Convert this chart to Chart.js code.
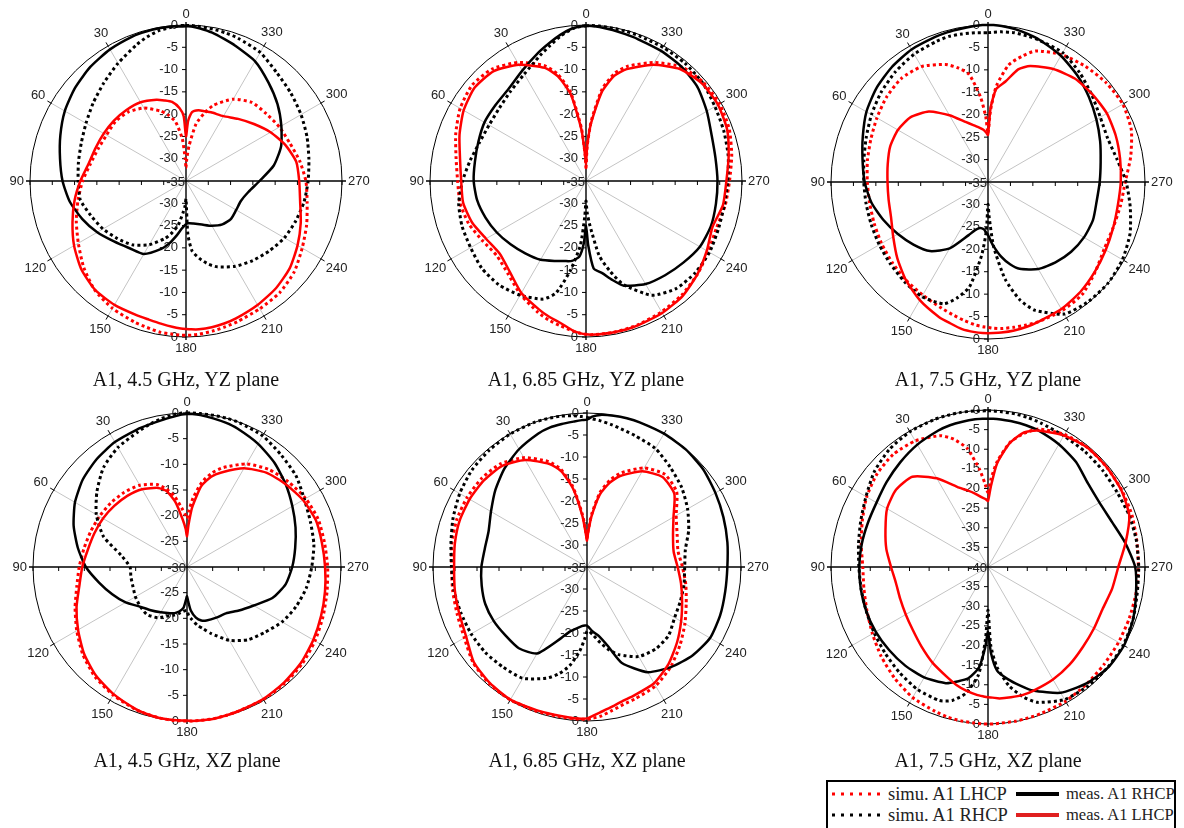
<!DOCTYPE html>
<html>
<head>
<meta charset="utf-8">
<script src="https://cdn.jsdelivr.net/npm/chart.js@4.4.0/dist/chart.umd.min.js"></script>
<style>
  body { margin: 0; width: 1184px; height: 828px; overflow: hidden; position: relative; background: #fff; }
  canvas { position: absolute; }
  .title { position: absolute; width: 300px; text-align: center; font: 20px "Liberation Serif", "Times New Roman", serif; color: #111; line-height: 22px; }
  #legend { position: absolute; left: 826px; top: 780px; width: 346px; height: 60px; border: 2.5px solid #000; overflow: hidden; }
  #legend span { position: absolute; font-family: "Liberation Serif", "Times New Roman", serif; color: #222; white-space: nowrap; line-height: 18px; }
  #legend svg { position: absolute; left: 0; top: 0; }
</style>
</head>
<body>
<div id="legend">
  <svg width="346" height="60">
    <line x1="4" y1="12" x2="52" y2="12" stroke="#f00" stroke-width="3" stroke-dasharray="3 6"/>
    <line x1="4" y1="33" x2="52" y2="33" stroke="#000" stroke-width="3" stroke-dasharray="3 6"/>
    <line x1="188" y1="12" x2="231" y2="12" stroke="#000" stroke-width="4"/>
    <line x1="188" y1="33" x2="231" y2="33" stroke="#e02020" stroke-width="4"/>
  </svg>
  <span style="left:60px;top:3px;font-size:18.5px">simu. A1 LHCP</span>
  <span style="left:60px;top:24px;font-size:18.5px">simu. A1 RHCP</span>
  <span style="left:238px;top:3px;font-size:16.5px">meas. A1 RHCP</span>
  <span style="left:238px;top:24px;font-size:16.5px">meas. A1 LHCP</span>
</div>
<script>
const ANG = [0,2,5,10,15,20, 30,40,50,60,70,80,90,100,110,120,130,140,150,160,
  165,170,175,178,180,182,185,190,195,200, 210,220,230,240,250,260,270,280,290,300,310,320,330,340,
  345,350,355,358];

// A1, 4.5 GHz, YZ plane
const yz45_simLHCP = [-32,-30,-25.5,-21.5,-19.7,-18.3, -16.1,-14.8,-14.3,-14.4,-14.0,-13.2,-11.8,-10.4,-8.8,-7.1,-5.0,-3.1,-2.0,-1.3, -1.0,-0.6,-0.5,-0.4,-0.4,-0.4,-0.5,-0.8,-1.1,-1.4, -1.9,-2.3,-3.3,-4.9,-6.2,-7.4,-8.1,-9.1,-10.2,-10.8,-11.5,-12.0,-13.8,-16.9, -19.3,-22.0,-27.0,-30.0];
const yz45_simRHCP = [-0.1,-0.1,-0.3,-0.7,-1.5,-2.5, -4.5,-6.3,-7.8,-9.1,-10.0,-10.5,-10.8,-10.9,-12.3,-13.5,-14.9,-16.3,-18.5,-21.3, -23.0,-25.0,-28.0,-29.5,-31.0,-23.0,-19.2,-17.3,-15.7,-14.5, -12.9,-11.7,-10.6,-9.5,-8.8,-8.1,-7.6,-7.0,-6.1,-5.2,-4.3,-3.3,-1.7,-0.9, -0.6,-0.4,-0.2,-0.1];
const yz45_measRHCP = [-0.3,-0.3,-0.2,-0.2,-0.3,-0.4, -0.9,-1.6,-2.5,-3.6,-5.0,-6.3,-7.3,-8.5,-10.2,-12.0,-13.9,-15.3,-16.1,-18.8, -20.5,-22.5,-24.3,-25.0,-25.3,-25.5,-25.5,-25.3,-25.0,-24.6, -23.4,-22.3,-21.8,-22.0,-21.9,-20.8,-18.5,-15.0,-12.3,-10.3,-8.2,-6.2,-4.0,-2.7, -2.0,-1.2,-0.6,-0.3];
const yz45_measLHCP = [-25,-20.5,-18.6,-17.0,-16.3,-15.6, -14.6,-14.2,-13.9,-13.7,-13.4,-12.8,-11.3,-9.6,-7.9,-6.0,-4.3,-3.2,-2.9,-2.9, -2.8,-2.5,-2.1,-1.9,-1.8,-1.7,-1.6,-1.7,-1.9,-2.2, -2.9,-3.6,-4.6,-6.1,-7.6,-9.0,-9.6,-9.9,-11.3,-13.1,-15.1,-16.8,-18.2,-18.6, -18.8,-18.9,-19.5,-21.5];

// A1, 6.85 GHz, YZ plane
const yz685_simLHCP = [-32,-29,-23,-14.6,-10.1,-7.4, -4.3,-2.2,-1.6,-2.4,-3.9,-5.4,-6.2,-6.3,-7.0,-8.2,-8.9,-7.8,-5.6,-3.6, -2.7,-2.0,-1.2,-0.8,-0.6,-0.5,-0.5,-0.5,-0.6,-0.7, -1.1,-1.6,-2.4,-3.3,-3.9,-3.3,-2.8,-1.8,-0.8,-0.4,-0.6,-1.6,-4.3,-7.6, -9.9,-14.0,-21.5,-27];
const yz685_simRHCP = [-0.2,-0.3,-0.7,-2.0,-3.6,-5.0, -7.3,-8.7,-9.6,-9.9,-9.6,-8.6,-7.3,-6.0,-5.4,-5.1,-4.5,-4.6,-5.4,-6.8, -9.0,-14.5,-20.5,-27.0,-30.5,-28.0,-25.0,-18.0,-14.0,-10.2, -5.4,-3.5,-3.0,-3.0,-3.4,-3.5,-3.2,-2.6,-2.1,-1.6,-0.8,-0.5,-0.4,-0.3, -0.2,-0.2,-0.1,-0.1];
const yz685_measRHCP = [-0.2,-0.3,-0.6,-1.7,-3.0,-4.2, -6.4,-8.0,-8.5,-8.7,-9.3,-9.7,-9.8,-10.2,-11.0,-11.9,-12.9,-13.8,-14.6,-15.9, -16.4,-16.8,-18.0,-21.0,-25.0,-20.5,-15.3,-14.0,-12.0,-10.0, -8.3,-7.4,-6.5,-5.5,-5.2,-5.4,-5.5,-5.5,-5.0,-3.7,-2.3,-1.6,-1.3,-1.1, -0.9,-0.6,-0.3,-0.2];
const yz685_measLHCP = [-31,-29.3,-23.5,-15.2,-10.7,-8.0, -4.9,-2.8,-2.4,-3.3,-4.8,-6.3,-7.0,-7.0,-7.8,-9.1,-9.7,-8.4,-6.0,-4.3, -3.4,-2.6,-1.3,-0.8,-0.6,-0.5,-0.5,-0.5,-0.5,-0.6, -0.8,-1.3,-2.4,-3.7,-4.8,-3.8,-3.5,-2.5,-1.3,-0.8,-1.0,-2.2,-4.9,-8.3, -10.6,-14.8,-22,-27];

// A1, 7.5 GHz, YZ plane
const yz75_simLHCP = [-24,-20.4,-16,-10.6,-8.6,-7.1, -5.3,-4.9,-5.5,-6.4,-7.2,-7.7,-8.1,-8.2,-8.0,-7.6,-7.1,-6.5,-5.9,-5.0, -4.4,-3.7,-3.0,-2.7,-2.6,-2.4,-2.2,-2.1,-2.0,-1.9, -1.9,-2.3,-3.8,-5.1,-5.3,-5.0,-4.4,-2.7,-1.0,-0.3,-0.6,-1.3,-2.2,-3.9, -6.0,-8.5,-13.5,-19];
const yz75_simRHCP = [-1.7,-1.7,-1.6,-1.5,-1.4,-1.6, -2.1,-2.9,-3.9,-5.0,-6.1,-6.9,-7.3,-7.4,-7.3,-7.0,-6.6,-6.0,-5.5,-6.1, -8.2,-11.3,-18.5,-24.0,-30.0,-27.0,-20.5,-13.0,-7.9,-4.6, -1.0,-0.2,0,-0.4,-1.3,-2.8,-4.2,-5.8,-6.6,-6.1,-4.8,-3.2,-1.7,-1.4, -1.3,-1.2,-1.4,-1.6];
const yz75_measRHCP = [0,0,-0.1,-0.3,-0.4,-0.6, -0.9,-1.6,-2.5,-3.7,-5.3,-6.6,-7.5,-8.6,-10.2,-11.8,-13.3,-14.9,-17.9,-22.4, -23.9,-24.6,-24.4,-23.7,-23.2,-22.2,-20.6,-18.1,-16.0,-14.4, -12.6,-11.6,-10.8,-10.3,-10.1,-10.4,-10.1,-9.5,-8.4,-7.1,-5.6,-4.0,-2.5,-1.3, -0.8,-0.4,-0.1,0];
const yz75_measLHCP = [-24.5,-24,-23.3,-22.6,-21.8,-20.8, -17.8,-14.5,-12.5,-11.8,-11.8,-12.3,-12.6,-12.5,-12.0,-10.6,-8.6,-6.5,-4.6,-3.0, -2.4,-1.7,-1.4,-1.3,-1.3,-1.3,-1.3,-1.4,-1.6,-1.9, -2.3,-3.0,-3.9,-4.7,-5.3,-5.6,-5.4,-5.1,-4.7,-4.4,-4.6,-4.9,-5.9,-7.5, -9.0,-12.2,-14.2,-18.5];

// A1, 4.5 GHz, XZ plane
const xz45_simLHCP = [-20.5,-19.8,-18.5,-16.0,-14.2,-12.9, -11.6,-11.0,-10.6,-10.3,-10.0,-9.6,-9.0,-8.2,-6.8,-5.2,-3.5,-2.1,-1.2,-0.5, -0.3,-0.1,0,0,0,0,0,0,-0.1,-0.2, -0.2,-0.4,-0.7,-1.2,-1.8,-2.3,-2.6,-2.8,-2.8,-3.3,-4.2,-5.2,-6.8,-9.4, -11.0,-13.2,-16.5,-19.0];
const xz45_simRHCP = [0,0,-0.2,-0.7,-1.3,-2.0, -3.1,-4.7,-7.1,-9.6,-12.7,-17.0,-18.9,-18.9,-18.8,-18.4,-18.1,-17.9,-18.6,-19.9, -20.3,-20.8,-21.3,-21.5,-21.5,-20.5,-19.8,-18.5,-17.5,-16.2, -13.5,-11.5,-10.2,-8.6,-7.4,-6.4,-5.7,-4.9,-4.4,-3.6,-2.3,-1.5,-0.5,-0.1, 0,0,0,0];
const xz45_measRHCP = [-0.2,-0.3,-0.6,-1.0,-1.3,-1.5, -1.9,-2.6,-3.5,-4.8,-6.5,-8.4,-10.3,-12.6,-14.5,-16.2,-18.0,-19.0,-19.8,-20.4, -20.7,-21.2,-22.0,-23.5,-24.3,-23.3,-21.5,-20.0,-19.2,-18.9, -18.6,-18.2,-16.8,-15.0,-12.3,-10.5,-9.5,-8.6,-7.5,-6.3,-4.9,-3.5,-2.3,-1.3, -0.9,-0.6,-0.3,-0.2];
const xz45_measLHCP = [-24,-22.6,-20.8,-17.2,-14.7,-13.6, -12.5,-11.9,-11.5,-11.1,-10.8,-10.4,-9.6,-8.7,-7.1,-5.5,-3.8,-2.4,-1.4,-0.6, -0.3,-0.1,-0.1,-0.1,-0.1,0,0,0,-0.1,-0.2, -0.3,-0.6,-1.0,-1.6,-2.2,-2.7,-3.1,-3.3,-3.3,-3.9,-4.9,-6.0,-7.8,-10.4, -11.8,-14.0,-18.3,-21.8];

// A1, 6.85 GHz, XZ plane
const xz685_simLHCP = [-28.5,-27,-23,-16.5,-12.0,-9.5, -6.3,-4.4,-3.7,-3.5,-3.5,-3.8,-4.2,-4.0,-3.6,-2.8,-1.2,-0.4,-0.1,-0.3, -0.4,-0.4,-0.4,-0.4,-0.4,-0.6,-0.9,-1.9,-2.7,-3.1, -3.8,-5.4,-7.4,-9.3,-11.0,-12.2,-13.3,-14.0,-13.2,-11.6,-8.4,-7.5,-9.0,-12.2, -14.5,-17.7,-23.0,-26.5];
const xz685_simRHCP = [-1.0,-0.8,-0.5,-0.2,-0.1,0, -0.1,-0.4,-0.8,-1.6,-2.6,-3.6,-4.2,-4.3,-4.5,-4.6,-4.8,-5.3,-5.8,-8.1, -9.8,-12.2,-15.8,-18.5,-20.4,-20.3,-19.5,-17.5,-15.5,-13.8, -11.5,-10.7,-10.8,-12.0,-12.4,-12.6,-12.8,-12.3,-10.4,-8.6,-6.9,-5.5,-3.9,-3.2, -2.8,-2.2,-1.6,-1.3];
const xz685_measRHCP = [-1.5,-1.6,-1.8,-2.0,-2.2,-2.7, -4.1,-5.8,-7.8,-9.8,-11.2,-11.4,-11.0,-10.7,-10.4,-10.5,-10.8,-10.9,-12.3,-17.8, -19.8,-20.8,-21.5,-21.7,-21.7,-21.2,-20.3,-19.0,-16.3,-11.8, -7.4,-5.3,-3.7,-2.7,-2.8,-3.1,-3.1,-2.6,-2.0,-1.3,-0.5,-0.1,0,0, 0,-0.1,-0.3,-0.8];
const xz685_measLHCP = [-29,-27.5,-23.5,-17.0,-12.5,-10.1, -6.9,-5.0,-4.4,-4.2,-4.2,-4.5,-4.8,-4.5,-4.1,-3.3,-1.4,-0.6,-0.2,-0.5, -0.6,-0.6,-0.5,-0.5,-0.6,-1.1,-1.8,-2.7,-3.5,-3.9, -4.5,-6.2,-8.3,-10.3,-12.0,-13.3,-14.4,-15.0,-14.2,-12.3,-9.1,-8.3,-9.9,-13.0, -15.2,-18.3,-23.5,-27];

// A1, 7.5 GHz, XZ plane
const xz75_simLHCP = [-21,-18.8,-15.0,-9.3,-6.3,-4.4, -2.9,-2.5,-3.1,-4.3,-5.9,-7.2,-8.1,-7.9,-7.2,-6.0,-4.5,-3.0,-1.6,-0.8, -0.4,-0.2,-0.1,0,0,0,-0.1,-0.1,-0.2,-0.3, -0.5,-1.0,-1.4,-1.6,-1.7,-1.7,-1.7,-1.5,-1.0,-0.7,-0.5,-0.4,-1.0,-2.6, -4.8,-7.8,-13.0,-17.5];
const xz75_simRHCP = [-0.2,-0.2,-0.1,0,0,0, -0.2,-0.9,-2.2,-4.1,-5.5,-6.5,-7.1,-7.2,-7.0,-6.5,-5.8,-4.9,-4.0,-3.8, -4.8,-7.3,-12.5,-21.5,-29.0,-20.0,-14.5,-9.3,-5.8,-3.3, -1.0,-0.4,-0.2,-0.2,-0.7,-1.4,-1.6,-1.6,-1.7,-2.0,-1.8,-1.6,-1.4,-0.9, -0.6,-0.4,-0.3,-0.2];
const xz75_measRHCP = [-2.2,-2.2,-2.2,-2.4,-2.6,-3.0, -4.0,-5.2,-6.3,-7.2,-7.4,-7.3,-7.2,-7.1,-7.0,-7.0,-7.1,-7.2,-7.5,-8.5, -9.8,-11.2,-14.4,-19.5,-23.5,-18.0,-13.5,-11.0,-8.8,-6.5, -3.0,-1.2,-0.1,0,-0.7,-1.7,-2.5,-4.5,-6.4,-7.2,-6.8,-5.1,-3.9,-2.9, -2.6,-2.4,-2.3,-2.2];
const xz75_measLHCP = [-23.2,-22.7,-22.2,-21.0,-19.8,-18.5, -13.9,-10.0,-9.4,-10.3,-12.2,-13.7,-15.3,-16.2,-16.2,-15.8,-15.0,-13.6,-11.8,-10.0, -8.9,-8.0,-7.3,-7.0,-6.8,-6.7,-6.4,-6.3,-6.2,-6.4, -6.9,-7.6,-8.4,-8.8,-8.9,-7.9,-6.8,-4.4,-1.7,-0.8,-0.5,-0.4,-1.3,-3.0, -4.5,-7.9,-13.5,-19.5];

const plots = [
  { cx: 186, cy: 181, r: 156, min: -35, ty: 368, title: 'A1, 4.5 GHz, YZ plane',  s: [yz45_measLHCP, yz45_measRHCP, yz45_simRHCP, yz45_simLHCP] },
  { cx: 586, cy: 181, r: 156, min: -35, ty: 368, title: 'A1, 6.85 GHz, YZ plane', s: [yz685_measLHCP, yz685_measRHCP, yz685_simRHCP, yz685_simLHCP] },
  { cx: 988, cy: 182, r: 157, min: -35, ty: 368, title: 'A1, 7.5 GHz, YZ plane',  s: [yz75_measLHCP, yz75_measRHCP, yz75_simRHCP, yz75_simLHCP] },
  { cx: 187, cy: 567, r: 154, min: -30, ty: 749, title: 'A1, 4.5 GHz, XZ plane',  s: [xz45_measLHCP, xz45_measRHCP, xz45_simRHCP, xz45_simLHCP] },
  { cx: 587, cy: 567, r: 154, min: -35, ty: 749, title: 'A1, 6.85 GHz, XZ plane', s: [xz685_measLHCP, xz685_measRHCP, xz685_simRHCP, xz685_simLHCP] },
  { cx: 988, cy: 567, r: 157, min: -40, ty: 749, title: 'A1, 7.5 GHz, XZ plane',  s: [xz75_measLHCP, xz75_measRHCP, xz75_simRHCP, xz75_simLHCP] }
];

// radar runs clockwise from the top, the plots run counter-clockwise
const LABELS = Array.from({ length: 360 }, (_, i) => String((360 - i) % 360));
function toRadar(vals) {
  const out = new Array(360).fill(null);
  ANG.forEach((a, k) => { out[(360 - a) % 360] = vals[k]; });
  return out;
}

const styles = [
  { borderColor: '#ff0000', borderWidth: 2.5, borderDash: [] },
  { borderColor: '#000000', borderWidth: 2.5, borderDash: [] },
  { borderColor: '#000000', borderWidth: 3, borderDash: [3, 3] },
  { borderColor: '#ff0000', borderWidth: 3, borderDash: [3, 3] }
];

const polarFrame = {
  id: 'polarFrame',
  beforeDatasetsDraw(chart) {
    const s = chart.scales.r, ctx = chart.ctx;
    const cx = s.xCenter, cy = s.yCenter, R = s.drawingArea;
    ctx.save();
    ctx.strokeStyle = '#000';
    ctx.lineWidth = 1;
    ctx.beginPath();
    for (let a = 30; a < 360; a += 30) {
      if (a % 90 === 0) continue;
      const i = (360 - a) % 360;
      const p1 = s.getPointPosition(i, R - 1), p2 = s.getPointPosition(i, R + 4);
      ctx.moveTo(p1.x, p1.y); ctx.lineTo(p2.x, p2.y);
    }
    ctx.stroke();
    ctx.lineWidth = 1.4;
    ctx.beginPath();
    ctx.moveTo(cx - R - 4, cy); ctx.lineTo(cx + R + 4, cy);
    ctx.moveTo(cx, cy - R - 3); ctx.lineTo(cx, cy + R + 3);
    ctx.stroke();
    ctx.lineWidth = 1;
    ctx.beginPath();
    for (let v = s.min + 5; v <= s.max; v += 5) {
      const d = s.getDistanceFromCenterForValue(v);
      ctx.moveTo(cx - 4, cy - d); ctx.lineTo(cx, cy - d);
      ctx.moveTo(cx - 4, cy + d); ctx.lineTo(cx, cy + d);
      ctx.moveTo(cx - d, cy); ctx.lineTo(cx - d, cy + 4);
      ctx.moveTo(cx + d, cy); ctx.lineTo(cx + d, cy + 4);
    }
    ctx.stroke();

    ctx.fillStyle = '#222';
    ctx.font = '13px "Liberation Sans", Arial, sans-serif';
    ctx.textAlign = 'right';
    ctx.textBaseline = 'middle';
    for (let v = s.min; v <= s.max; v += 5) {
      const d = s.getDistanceFromCenterForValue(v);
      if (v === s.min) { ctx.fillText(String(v), cx - 1, cy + 1); continue; }
      ctx.fillText(String(v), cx - 8, cy - d);
      ctx.fillText(String(v), cx - 8, cy + d);
    }
    ctx.textAlign = 'center';
    for (let a = 0; a < 360; a += 30) {
      const i = (360 - a) % 360;
      const t = String(a), w = ctx.measureText(t).width;
      const ang = s.getPointPosition(i, R).angle;
      const off = R + 6 + Math.abs(Math.cos(ang)) * w / 2 + Math.abs(Math.sin(ang)) * 5;
      const p = s.getPointPosition(i, off);
      ctx.fillText(t, p.x, p.y);
    }
    ctx.restore();
  }
};

plots.forEach(p => {
  const cv = document.createElement('canvas');
  cv.width = 400; cv.height = 400;
  cv.style.left = (p.cx - 200) + 'px';
  cv.style.top = (p.cy - 200) + 'px';
  document.body.appendChild(cv);

  const t = document.createElement('div');
  t.className = 'title';
  t.textContent = p.title;
  t.style.left = (p.cx - 150) + 'px';
  t.style.top = p.ty + 'px';
  document.body.appendChild(t);

  new Chart(cv, {
    type: 'radar',
    data: {
      labels: LABELS,
      datasets: p.s.map((vals, k) => Object.assign({
        data: toRadar(vals),
        spanGaps: true,
        fill: false,
        backgroundColor: 'rgba(0,0,0,0)',
        pointRadius: 0,
        tension: 0.2,
        borderCapStyle: 'butt',
        borderJoinStyle: 'round'
      }, styles[k]))
    },
    options: {
      responsive: false,
      animation: false,
      events: [],
      layout: { padding: 200 - p.r },
      plugins: { legend: { display: false }, tooltip: { enabled: false } },
      scales: {
        r: {
          min: p.min,
          max: 0,
          ticks: { display: false, stepSize: 5 },
          pointLabels: { display: false },
          grid: { circular: true, lineWidth: 1, color: c => (c.tick && c.tick.value === 0) ? '#000' : 'rgba(0,0,0,0)' },
          angleLines: { color: '#c4c4c4', lineWidth: c => (c.index % 30 === 0 && c.index % 90 !== 0) ? 1 : 0 }
        }
      }
    },
    plugins: [polarFrame]
  });
});
</script>
</body>
</html>
